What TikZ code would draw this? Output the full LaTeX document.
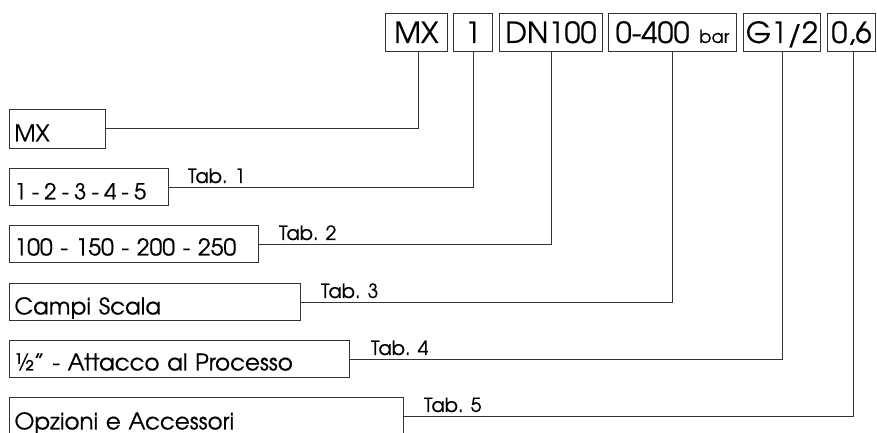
\documentclass[tikz,border=0pt]{standalone}
\usepackage{fontspec}
\setmainfont[FakeBold=0.5]{TeX Gyre Adventor}
\usetikzlibrary{calc}
\begin{document}
\begin{tikzpicture}[x=1pt,y=-1pt,
  ln/.style={draw=black!80, line width=0.9pt},
  topbox/.style={ln, anchor=north west, inner xsep=0pt, inner ysep=0pt,
     text height=30pt, text depth=8pt, align=center, font=\fontsize{29}{29}\selectfont},
  leftbox/.style={ln, anchor=north west, inner xsep=5pt, inner ysep=0pt,
     align=left, font=\fontsize{23}{23}\selectfont},
  tablbl/.style={anchor=base west, inner sep=0pt, font=\fontsize{19.5}{19.5}\selectfont},
  conn/.style={ln}]
\useasboundingbox (0,0) rectangle (877,432);
% top code boxes
\node[topbox, text width=62pt] (tMX) at (385,12.5) {MX};
\node[topbox, text width=39pt] (t1) at (453,12.5) {1};
\node[topbox, text width=103pt] (tDN) at (499,12.5) {DN100};
\node[topbox, text width=128pt] (tP) at (608,12.5) {0-400 {\fontsize{18}{18}\selectfont bar}};
\node[topbox, text width=77pt] (tG) at (743,12.5) {G1/2};
\node[topbox, text width=48pt] (tO) at (827,12.5) {0,6};
% left description boxes
\node[leftbox, text width=86pt, text height=32pt, text depth=6.5pt] (lMX) at (9,109) {\mbox{MX}};
\node[leftbox, text width=149pt, text height=31pt, text depth=6pt] (l1) at (9,168) {\fontsize{22}{22}\selectfont\spaceskip=5.2pt\relax\mbox{1 - 2 - 3 - 4 - 5}};
\node[leftbox, text width=239pt, text height=30pt, text depth=7pt] (lDN) at (9,225) {\mbox{100 - 150 - 200 - 250}};
\node[leftbox, text width=281pt, text height=31pt, text depth=6pt] (lP) at (9,283) {\mbox{Campi Scala}};
\node[leftbox, text width=330pt, text height=30pt, text depth=7pt] (lG) at (9,340) {\mbox{½" - Attacco al Processo}};
\node[leftbox, text width=384pt, text height=32pt, text depth=5pt] (lO) at (9,397) {\mbox{Opzioni e Accessori}};
% tab labels
\node[tablbl] (tab1) at ($(l1.east)+(19,-4)$) {Tab. 1};
\node[tablbl] (tab2) at ($(lDN.east)+(20,-4)$) {Tab. 2};
\node[tablbl] (tab3) at ($(lP.east)+(20,-4)$) {Tab. 3};
\node[tablbl] (tab4) at ($(lG.east)+(21,-4)$) {Tab. 4};
\node[tablbl] (tab5) at ($(lO.east)+(20,-4)$) {Tab. 5};
% connectors
\draw[conn] ([xshift=1.5pt]tMX.south) |- (lMX.east);
\draw[conn] (t1.south) |- (l1.east);
\draw[conn] (tDN.south) |- (lDN.east);
\draw[conn] (tP.south) |- (lP.east);
\draw[conn] (tG.south) |- (lG.east);
\draw[conn] ([xshift=1.5pt]tO.south) |- (lO.east);
\end{tikzpicture}
\end{document}
